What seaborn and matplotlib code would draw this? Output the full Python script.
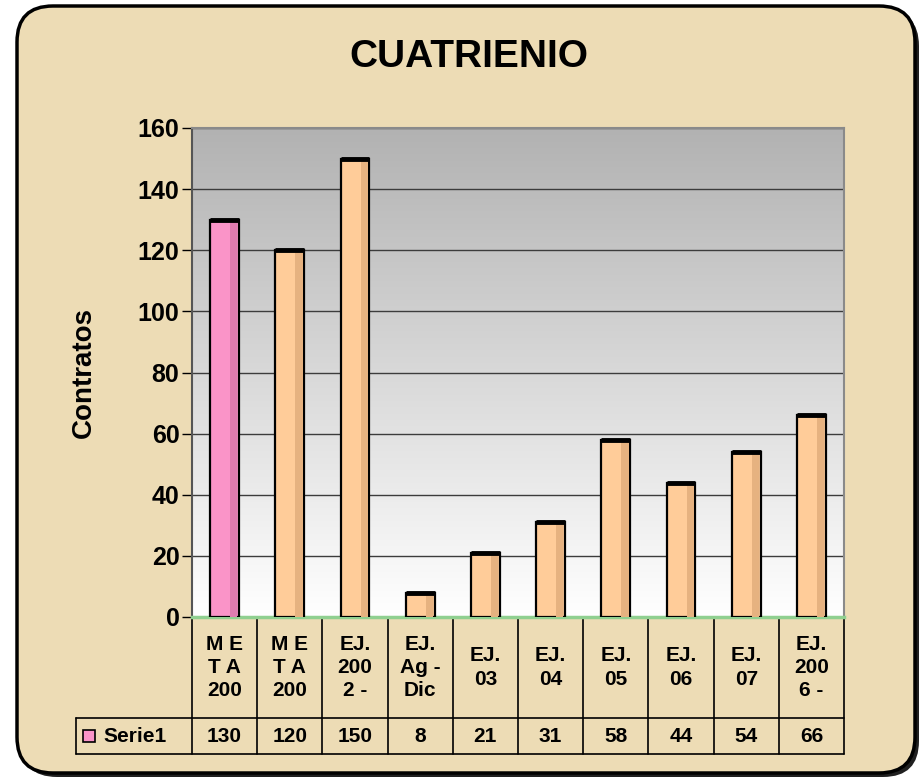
import numpy as np
import pandas as pd
import matplotlib
matplotlib.use("Agg")
import matplotlib.pyplot as plt
import seaborn as sns
from matplotlib.patches import FancyBboxPatch, Rectangle
from matplotlib.colors import LinearSegmentedColormap

# Data
labels = ["M E\nT A\n200", "M E\nT A\n200", "EJ.\n200\n2 -", "EJ.\nAg -\nDic",
          "EJ.\n03", "EJ.\n04", "EJ.\n05", "EJ.\n06", "EJ.\n07", "EJ.\n200\n6 -"]
values = [130, 120, 150, 8, 21, 31, 58, 44, 54, 66]
series_name = "Serie1"
bar_colors = ["#fa94c8"] + ["#ffcc99"] * 9
side_colors = ["#e07cb0"] + ["#e6b280"] * 9

df = pd.DataFrame({"pos": range(len(values)), "Contratos": values})

sns.set_theme(style="white")
plt.rcParams["font.family"] = ["Liberation Sans", "DejaVu Sans"]
plt.rcParams["text.color"] = "black"

fig = plt.figure(figsize=(9.19, 7.81), dpi=100, facecolor="white")

# parchment frame (inches)
shadow = FancyBboxPatch((0.21, 0.04), 8.98, 7.67, boxstyle="round,pad=0,rounding_size=0.36",
                        transform=fig.dpi_scale_trans, facecolor="#202020", edgecolor="none", zorder=-3)
frame = FancyBboxPatch((0.17, 0.08), 8.98, 7.67, boxstyle="round,pad=0,rounding_size=0.36",
                       transform=fig.dpi_scale_trans, facecolor="#eddcb5", edgecolor="black", lw=2.5, zorder=-2)
fig.patches.extend([shadow, frame])

ax = fig.add_axes([192 / 919, 1 - 617 / 781, 652 / 919, 489 / 781])
ax.set_facecolor("none")

# gradient back wall
grad = LinearSegmentedColormap.from_list("wall", ["#ffffff", "#b2b2b2"])
ax.imshow(np.linspace(0, 1, 256).reshape(-1, 1), cmap=grad, origin="lower", aspect="auto",
          extent=[0, 1, 0, 1], transform=ax.transAxes, zorder=0)

sns.barplot(data=df, x="pos", y="Contratos", hue="pos", palette=bar_colors, dodge=False,
            saturation=1, width=0.44, edgecolor="black", linewidth=1.6, legend=False, ax=ax, zorder=3)
# darker right face and black top cap of each column
ax.bar(df["pos"] + 0.14, df["Contratos"], width=0.11, color=side_colors,
       edgecolor="none", linewidth=0, zorder=4)
ax.hlines(df["Contratos"], df["pos"] - 0.22, df["pos"] + 0.22, color="black", lw=3.5, zorder=5)
ax.set_xlim(-0.5, len(values) - 0.5)
ax.set_ylim(0, 160)
ax.set_yticks(range(0, 161, 20))
for v in range(20, 161, 20):
    ax.axhline(v, color="#3c3c3c", lw=1, zorder=1)

ax.set_xlabel("")
ax.set_xticks([])
ax.set_ylabel("Contratos", fontsize=20, fontweight="bold", color="black")
ax.yaxis.set_label_coords(-0.1457, 0.5)
ax.tick_params(axis="y", left=True, length=7, width=1, pad=2, labelsize=18, colors="black")
for t in ax.get_yticklabels():
    t.set_fontweight("bold")
for s in ["top", "right"]:
    ax.spines[s].set_color("#8a8a8a")
    ax.spines[s].set_linewidth(1.5)
ax.spines["left"].set_color("#555555")
ax.spines["left"].set_linewidth(1.5)
ax.spines["bottom"].set_color("#90d090")
ax.spines["bottom"].set_linewidth(2.5)

# data table below the plot
tr = ax.get_xaxis_transform()
y_mid = -(718 - 617) / 489
y_bot = -(754 - 617) / 489
left_x = -0.5 - (192 - 76) / 652 * len(values)
line_kw = dict(color="black", lw=1.2, transform=tr, clip_on=False)
ax.plot([-0.5, len(values) - 0.5], [0, 0], **line_kw)
ax.plot([left_x, len(values) - 0.5], [y_mid, y_mid], **line_kw)
ax.plot([left_x, len(values) - 0.5], [y_bot, y_bot], **line_kw)
ax.plot([left_x, left_x], [y_mid, y_bot], **line_kw)
for b in np.arange(-0.5, len(values), 1.0):
    ax.plot([b, b], [0, y_bot], **line_kw)
for i, (lab, v) in enumerate(zip(labels, values)):
    ax.text(i, y_mid / 2, lab, transform=tr, ha="center", va="center", fontsize=15,
            fontweight="bold", linespacing=1.3, clip_on=False)
    ax.text(i, (y_mid + y_bot) / 2, str(v), transform=tr, ha="center", va="center",
            fontsize=15, fontweight="bold", clip_on=False)

# legend key in the table
px = len(values) / 652
key_x = left_x + 7 * px
y_c = (y_mid + y_bot) / 2
ax.add_patch(Rectangle((key_x, y_c - 6 / 489), 12 * px, 12 / 489, transform=tr,
                       facecolor=bar_colors[0], edgecolor="black", lw=1.2, clip_on=False))
ax.text(key_x + 20 * px, y_c, series_name, transform=tr, ha="left", va="center",
        fontsize=15, fontweight="bold", clip_on=False)

fig.text(469 / 919, 1 - 57 / 781, "CUATRIENIO", ha="center", va="center",
         fontsize=28, fontweight="bold")

fig.savefig("out.png", dpi=100, facecolor="white")
